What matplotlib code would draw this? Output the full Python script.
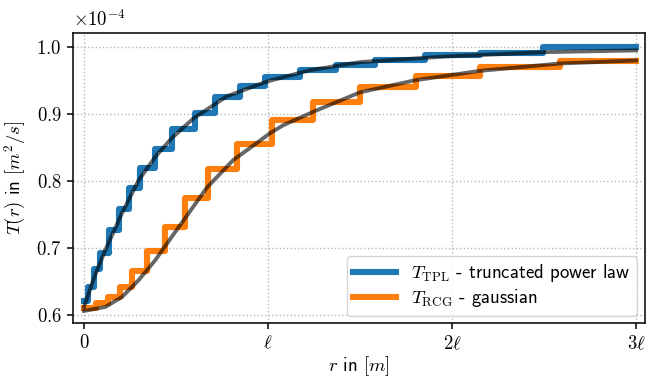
import numpy as np
import matplotlib
matplotlib.use("Agg")
import matplotlib.pyplot as plt

plt.rcParams['font.family'] = ['cmss10', 'DejaVu Sans']
plt.rcParams['mathtext.fontset'] = 'cm'
plt.rcParams['axes.unicode_minus'] = False

# x in units of ell, T in units of 1e-4 m^2/s
tpl_edges = [0.0, 0.022, 0.054, 0.087, 0.136, 0.190, 0.245, 0.304, 0.386, 0.478, 0.603,
             0.712, 0.848, 0.984, 1.174, 1.370, 1.582, 1.853, 2.152, 2.495, 3.0]
tpl_levels = [0.621, 0.642, 0.668, 0.692, 0.726, 0.758, 0.789, 0.819, 0.848, 0.877,
              0.901, 0.925, 0.941, 0.955, 0.966, 0.973, 0.980, 0.9875, 0.991, 1.000]

rcg_edges = [0.0, 0.065, 0.130, 0.196, 0.261, 0.342, 0.440, 0.549, 0.674, 0.832, 1.022,
             1.245, 1.5, 1.804, 2.152, 2.587, 3.0]
rcg_levels = [0.610, 0.6175, 0.627, 0.642, 0.665, 0.696, 0.731, 0.775, 0.818, 0.855,
              0.890, 0.917, 0.940, 0.957, 0.970, 0.978]

# smooth (exact) curves
tpl_r = [0.0, 0.054, 0.116, 0.207, 0.297, 0.388, 0.478, 0.594, 0.776, 0.993, 1.228,
         1.5, 1.971, 2.515, 3.0]
tpl_T = [0.612, 0.655, 0.697, 0.752, 0.801, 0.836, 0.864, 0.893, 0.926, 0.948, 0.965,
         0.977, 0.9855, 0.992, 0.9945]

rcg_r = [0.0, 0.116, 0.207, 0.297, 0.388, 0.478, 0.533, 0.668, 0.811, 0.902, 1.011,
         1.083, 1.255, 1.5, 1.799, 2.152, 2.587, 3.0]
rcg_T = [0.606, 0.612, 0.627, 0.652, 0.682, 0.717, 0.738, 0.790, 0.831, 0.849, 0.871,
         0.883, 0.904, 0.932, 0.950, 0.964, 0.975, 0.9795]

xticks = [0, 1, 2, 3]
xticklabels = [r'$0$', r'$\ell$', r'$2\ell$', r'$3\ell$']
yticks = [0.6, 0.7, 0.8, 0.9, 1.0]

FS = 13.5


def main():
    fig = plt.figure(figsize=(6.46, 3.8), dpi=100)
    ax = fig.add_axes([72.7 / 646, 1 - 323.3 / 380, (644.5 - 72.7) / 646, 290 / 380])

    ax.step(tpl_edges, tpl_levels + [tpl_levels[-1]], where='post', color='#1f77b4',
            lw=4.4, label=r'$T_{\mathrm{TPL}}$ - truncated power law')
    ax.step(rcg_edges, rcg_levels + [rcg_levels[-1]], where='post', color='#ff7f0e',
            lw=4.4, label=r'$T_{\mathrm{RCG}}$ - gaussian')
    ax.plot(tpl_r, tpl_T, color='k', alpha=0.6, lw=2.8)
    ax.plot(rcg_r, rcg_T, color='k', alpha=0.6, lw=2.8)

    ax.set_xlim(-0.0614, 3.046)
    ax.set_ylim(0.5876, 1.02)
    ax.set_xticks(xticks)
    ax.set_xticklabels(xticklabels, fontsize=FS)
    ax.set_yticks(yticks)
    ax.set_yticklabels([r'$%.1f$' % v for v in yticks], fontsize=FS)
    ax.grid(True, linestyle=':', color='#b8b8b8', lw=1.0)
    for s in ax.spines.values():
        s.set_linewidth(1.1)
    ax.tick_params(width=1.1, length=4.5)

    ax.set_xlabel(r'$r$ in $[m]$', fontsize=FS, labelpad=1)
    ax.set_ylabel(r'$T(r)$ in $[m^2/s]$', fontsize=FS, labelpad=6)
    ax.text(0.0, 1.01, r'$\times10^{-4}$', transform=ax.transAxes, fontsize=FS,
            ha='left', va='bottom')

    ax.legend(loc='lower right', borderaxespad=0.4, fontsize=FS, handlelength=2.3,
              labelspacing=0.15, borderpad=0.35)

    fig.savefig('out.png', dpi=100)


if __name__ == "__main__":
    main()
